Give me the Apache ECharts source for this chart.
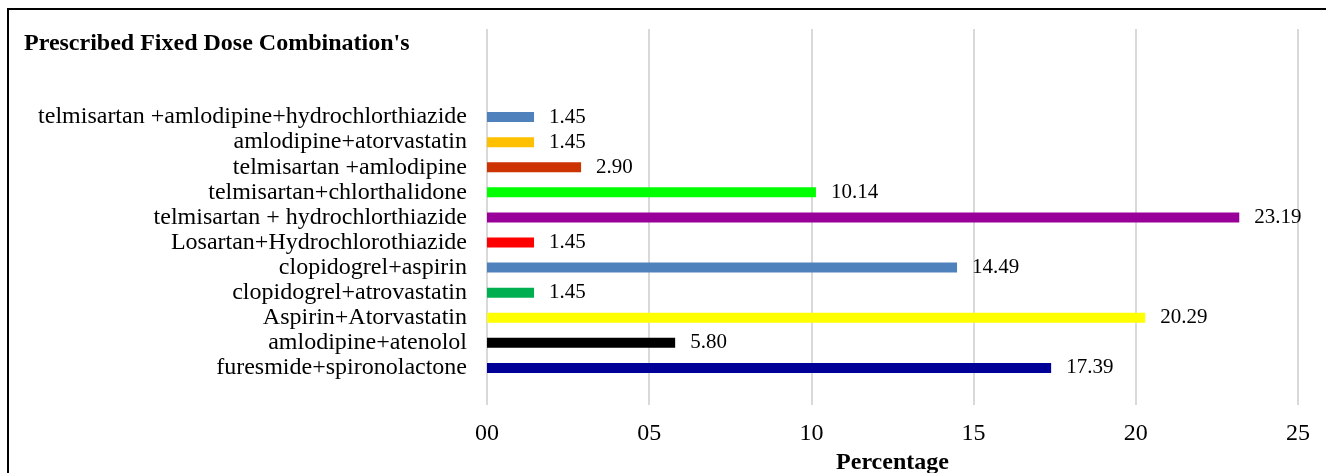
<!DOCTYPE html>
<html><head><meta charset="utf-8">
<script src="https://cdn.jsdelivr.net/npm/echarts@6/dist/echarts.min.js"></script>
<style>html,body{margin:0;padding:0;background:#fff}#c{width:1326px;height:473px}</style>
</head><body><div id="c"></div>
<script>
const categories = ["furesmide+spironolactone","amlodipine+atenolol","Aspirin+Atorvastatin","clopidogrel+atrovastatin","clopidogrel+aspirin","Losartan+Hydrochlorothiazide","telmisartan + hydrochlorthiazide","telmisartan+chlorthalidone","telmisartan +amlodipine","amlodipine+atorvastatin","telmisartan +amlodipine+hydrochlorthiazide"];
const values = [17.39,5.80,20.29,1.45,14.49,1.45,23.19,10.14,2.90,1.45,1.45];
const colors = ["#000099","#000000","#FFFF00","#00B050","#4F81BD","#FF0000","#990099","#00FF00","#CC3300","#FFC000","#4F81BD"];
const tickLabels = {0:"00",5:"05",10:"10",15:"15",20:"20",25:"25"};
const font = "'Liberation Serif','Times New Roman',serif";
const chart = echarts.init(document.getElementById('c'));
chart.setOption({
  animation:false,
  backgroundColor:'#fff',
  graphic:[{type:'rect',shape:{x:8,y:9,width:1330,height:480},style:{fill:'none',stroke:'#000',lineWidth:2},z:-1},
    {type:'text',left:24,top:32,style:{text:"Prescribed Fixed Dose Combination's",font:"bold 24px "+font,fill:'#000'}}],
  grid:[
    {left:487,right:28,top:104.5,bottom:92.5,outerBoundsMode:'none',containLabel:false},
    {left:487,right:28,top:29,bottom:68,outerBoundsMode:'none',containLabel:false}
  ],
  xAxis:[
    {gridIndex:0,type:'value',min:0,max:25,interval:5,show:false},
    {gridIndex:1,type:'value',min:0,max:25,interval:5,
     axisLine:{show:false},axisTick:{show:false},
     splitLine:{show:true,lineStyle:{color:'#d9d9d9',width:2}},
     axisLabel:{margin:17,fontFamily:font,fontSize:24,color:'#000',formatter:v=>tickLabels[v]},
     name:'Percentage',nameLocation:'middle',nameGap:43,
     nameTextStyle:{fontFamily:font,fontSize:24,fontWeight:'bold',color:'#000'}}
  ],
  yAxis:[
    {gridIndex:0,type:'category',data:categories,
     axisLine:{show:false},axisTick:{show:false},
     axisLabel:{interval:0,margin:20,fontFamily:font,fontSize:24,color:'#000'}},
    {gridIndex:1,type:'category',data:[],show:false}
  ],
  series:[{type:'bar',xAxisIndex:0,yAxisIndex:0,data:values.map((v,i)=>({value:v,itemStyle:{color:colors[i]}})),
    barWidth:10,
    label:{show:true,position:'right',distance:15,fontFamily:font,fontSize:21,color:'#000',formatter:p=>p.value.toFixed(2)}}]
});
</script></body></html>
